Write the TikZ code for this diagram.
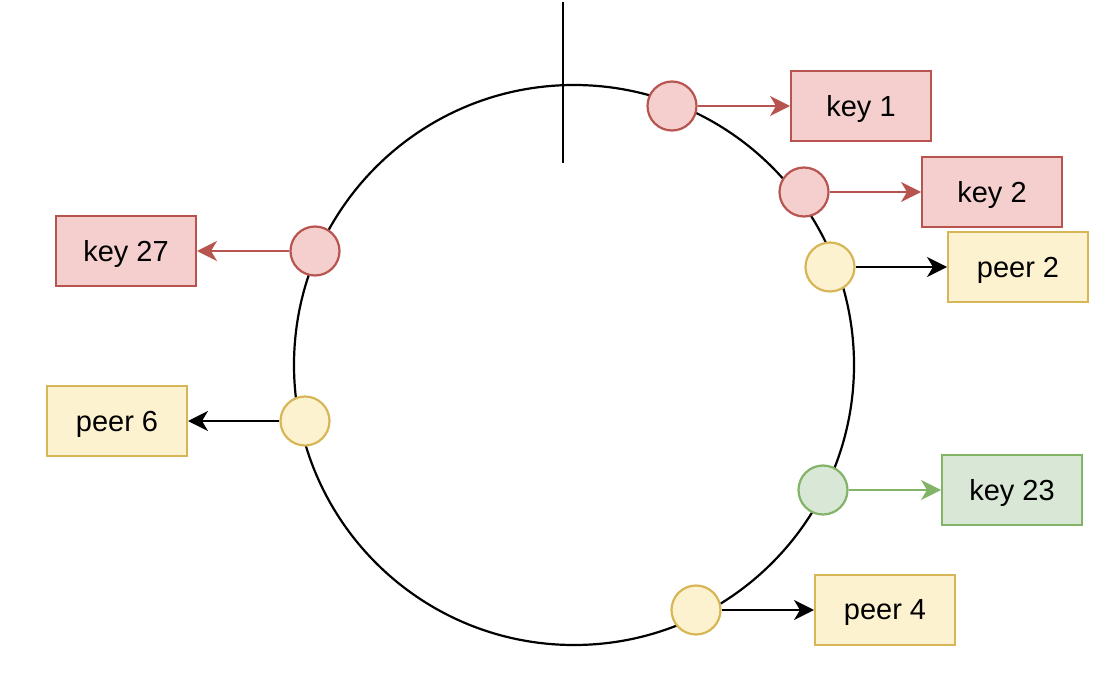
\documentclass[tikz,border=0pt]{standalone}
\usepackage{fontspec}
\setmainfont{Liberation Sans}
\usetikzlibrary{arrows.meta}
\definecolor{redfill}{HTML}{F4CFCE}
\definecolor{redline}{HTML}{B85450}
\definecolor{yellowfill}{HTML}{FDF2CF}
\definecolor{yellowline}{HTML}{D6B656}
\definecolor{greenfill}{HTML}{D8E7D6}
\definecolor{greenline}{HTML}{82B366}
\tikzset{
  dot/.style={circle, draw, line width=1.1pt, minimum size=24.5pt, inner sep=0pt},
  keybox/.style={rectangle, draw, line width=1pt, minimum width=70pt, minimum height=35pt, text depth=0pt, font=\fontsize{14.5}{17}\selectfont},
  link/.style={line width=0.9pt, -{Stealth[length=10pt, width=10pt, inset=3pt]}},
}

\begin{document}
\begin{tikzpicture}[x=0.5pt, y=-0.5pt]
\newcommand{\ringr}{280}
\useasboundingbox (0,0) rectangle (1104,674);

% Ring and start marker
\draw[line width=1.1pt] (574,365) circle[radius=\ringr];
\draw[line width=1.1pt] (563,2) -- (563,163); % start

% Points on the ring
\node[dot, fill=redfill, draw=redline] (dkey1) at (672,106) {};
\node[dot, fill=redfill, draw=redline] (dkey2) at (804,192) {};
\node[dot, fill=yellowfill, draw=yellowline] (dpeer2) at (830,267) {};
\node[dot, fill=redfill, draw=redline] (dkey27) at (315,251) {};
\node[dot, fill=yellowfill, draw=yellowline] (dpeer6) at (305,421) {};
\node[dot, fill=greenfill, draw=greenline] (dkey23) at (823,490) {};
\node[dot, fill=yellowfill, draw=yellowline] (dpeer4) at (696,610) {};

% Labels
\node[keybox, fill=redfill, draw=redline] (key1) at (861,106) {key 1};
\node[keybox, fill=redfill, draw=redline] (key2) at (992,192) {key 2};
\node[keybox, fill=yellowfill, draw=yellowline] (peer2) at (1018,267) {peer 2};
\node[keybox, fill=redfill, draw=redline] (key27) at (126,251) {key 27};
\node[keybox, fill=yellowfill, draw=yellowline] (peer6) at (117,421) {peer 6};
\node[keybox, fill=greenfill, draw=greenline] (key23) at (1012,490) {key 23};
\node[keybox, fill=yellowfill, draw=yellowline] (peer4) at (885,610) {peer 4};

% Arrows
\draw[link, redline] (dkey1) -- (key1);
\draw[link, redline] (dkey2) -- (key2);
\draw[link, black] (dpeer2) -- (peer2);
\draw[link, redline] (dkey27) -- (key27);
\draw[link, black] (dpeer6) -- (peer6);
\draw[link, greenline] (dkey23) -- (key23);
\draw[link, black] (dpeer4) -- (peer4);

\end{tikzpicture}
\end{document}
